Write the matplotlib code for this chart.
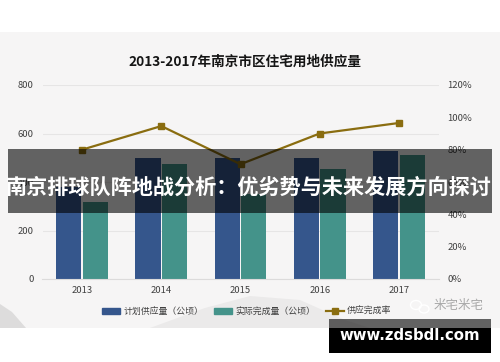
import matplotlib.pyplot as plt
from matplotlib.lines import Line2D
from matplotlib.patches import Ellipse, Patch, Polygon, Rectangle

plt.rcParams['font.family'] = ['Noto Sans CJK SC', 'DejaVu Sans']

annees = ['2013', '2014', '2015', '2016', '2017']
planifie = [379, 500, 500, 500, 529]
realise = [318, 474, 350, 453, 513]
taux = [80, 94.6, 71, 90, 96.5]

ticks_gauche = [0, 200, 400, 600, 800]
ticks_droite = [0, 20, 40, 60, 80, 100, 120]

W = 500
H = 362

fig = plt.figure(figsize=(W / 100, H / 100), dpi=100, facecolor='white')

# fond de l'image, en coordonnees pixels
fond = fig.add_axes([0, 0, 1, 1], zorder=0)
fond.set_xlim(0, W)
fond.set_ylim(H, 0)
fond.axis('off')
fond.add_patch(Rectangle((0, 32), W, 296, color='#f6f5f5', lw=0))
fond.add_patch(Polygon([(0, 304), (12, 312), (26, 328), (0, 328)], color='#dddcdc', lw=0))
fond.add_patch(Polygon([(150, 328), (205, 308), (250, 296), (300, 300), (345, 320), (370, 328)],
                       color='#ebeaea', lw=0))

# graphique
ax = fig.add_axes([42.5 / W, (H - 279) / H, 396 / W, 194 / H], zorder=1)
ax.patch.set_alpha(0)
x = list(range(len(annees)))
x_plan = [i - 0.168 for i in x]
x_real = [i + 0.168 for i in x]
ax.bar(x_plan, planifie, width=0.316, color='#35568c', zorder=2)
ax.bar(x_real, realise, width=0.316, color='#44938a', zorder=2)
ax.set_xlim(-0.5, 4.5)
ax.set_ylim(0, 800)
ax.set_xticks(x)
ax.set_xticklabels(annees)
ax.set_yticks(ticks_gauche)
ax.grid(axis='y', color='#e6e5e5', lw=0.8, zorder=0)
ax.tick_params(length=0, labelsize=6.8, labelcolor='#404040')
ax.tick_params(axis='y', pad=6.5)
ax.tick_params(axis='x', pad=5)
for cote in ['top', 'left', 'right']:
    ax.spines[cote].set_visible(False)
ax.spines['bottom'].set_color('#dcdbdb')

ax2 = ax.twinx()
ax2.patch.set_alpha(0)
ax2.plot(x, taux, color='#8a6d10', lw=1.6, marker='s', ms=3.8, zorder=3)
ax2.set_ylim(0, 120)
ax2.set_yticks(ticks_droite)
ax2.set_yticklabels([f'{t}%' for t in ticks_droite])
ax2.tick_params(length=0, labelsize=6.8, labelcolor='#404040', pad=6.5)
for cote in ['top', 'left', 'right', 'bottom']:
    ax2.spines[cote].set_visible(False)

fig.text(245 / W, (H - 62) / H, '2013-2017年南京市区住宅用地供应量', ha='center', va='center',
         fontsize=9.8, fontweight='bold', color='#151515')

poignees = [Patch(color='#35568c'), Patch(color='#44938a'),
            Line2D([], [], color='#8a6d10', lw=1.6, marker='s', ms=3.8)]
textes = ['计划供应量（公顷）', '实际完成量（公顷）', '供应完成率']
fig.legend(poignees, textes, loc='center', bbox_to_anchor=(246.5 / W, (H - 311.5) / H), ncol=3,
           frameon=False, fontsize=6.4, labelcolor='#404040', handlelength=2.1, handleheight=0.6,
           handletextpad=0.3, columnspacing=1.2)

# surcouches : bandeau, filigrane, adresse
dessus = fig.add_axes([0, 0, 1, 1], zorder=5)
dessus.set_xlim(0, W)
dessus.set_ylim(H, 0)
dessus.axis('off')
dessus.patch.set_alpha(0)
dessus.add_patch(Rectangle((8, 149), 484, 64, color='black', alpha=0.6, lw=0))
dessus.text(249, 187, '南京排球队阵地战分析：优劣势与未来发展方向探讨', ha='center', va='center',
            fontsize=15.2, fontweight='bold', color='white')

dessus.add_patch(Ellipse((416, 305), 11, 9, fc='none', ec='white', lw=1))
dessus.add_patch(Ellipse((424, 309), 10, 8, fc='none', ec='white', lw=1))
dessus.text(459, 306, '米宅米宅', ha='center', va='center', fontsize=9, color='#a8a8a8')

dessus.add_patch(Rectangle((329, 319), 162, 9, color='black', alpha=0.6, lw=0))
dessus.add_patch(Rectangle((329, 328), 162, 25, color='black', lw=0))
dessus.text(409.5, 336, 'www.zdsbdl.com', ha='center', va='center', fontsize=10.7,
            fontweight='bold', color='white', family='DejaVu Sans')

fig.savefig('out.png', dpi=100)
